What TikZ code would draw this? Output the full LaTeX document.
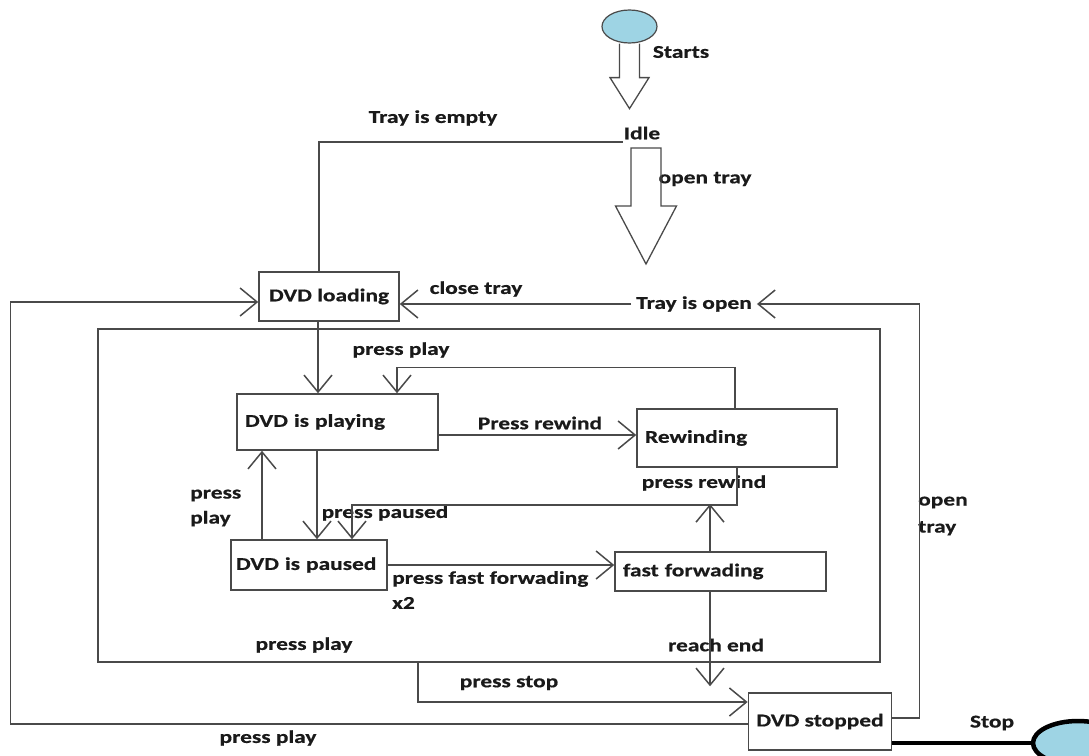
\documentclass[tikz,border=0pt]{standalone}
\usepackage{fontspec}
\newfontfamily\diafont[FakeStretch=1.3,FakeBold=0.6]{Carlito Bold}
\usetikzlibrary{arrows.meta,positioning,calc,shapes.geometric}
\definecolor{Ink}{HTML}{1A1A1A}
\definecolor{Wire}{HTML}{4A4A4A}
\definecolor{Bulb}{HTML}{9ED4E4}
\tikzset{
  wire/.style={draw=Wire,line width=1.5pt},
  tag/.style={font=\diafont\fontsize{18}{25}\selectfont,text=Ink,inner sep=1pt},
  state/.style={draw=Wire,line width=1.5pt,inner ysep=0pt,inner xsep=8pt,font=\diafont\fontsize{18}{19}\selectfont,text=Ink},
  hollow/.style={draw=Wire,line width=1.3pt,line join=miter}
}
\begin{document}
\begin{tikzpicture}[x=1pt,y=-1pt,>={Straight Barb[length=17pt,width=28pt]}]
\useasboundingbox (0,0) rectangle (1089,755);
\node[draw=Wire,line width=1.2pt,fill=Bulb,ellipse,minimum width=55pt,minimum height=33pt,inner sep=0pt] (start) at (629.5,26.5) {};
\node[tag] (startsLbl) at (681,52) {Starts};
\node[tag] (idle) at (642,133) {Idle};
\node[tag] (emptyLbl) at (433,118) {Tray is empty};
\node[tag] (openLbl) at (705,179) {open tray};
\node[state,minimum width=140pt,minimum height=49pt] (load) at (329,296.5) {DVD loading};
\node[tag] (closeLbl) at (476,289) {close tray};
\node[tag,inner xsep=5pt] (trayOpen) at (694,304) {Tray is open};
\node[draw=Wire,line width=1.5pt,minimum width=782pt,minimum height=333pt,inner sep=0pt] (active) at (489,495.5) {};
\node[tag] (playLbl) at (401,350) {press play};
\node[state,text width=185pt,minimum height=56pt,align=left] (play) at (337.5,422) {DVD is playing};
\node[state,text width=184pt,minimum height=58pt,align=left] (rew) at (737,438) {Rewinding};
\node[tag] (rewLbl) at (540,423) {Press rewind};
\node[tag,anchor=west,align=left] (resumeLbl) at (189,508) {press\\play};
\node[state,text width=146pt,inner xsep=5pt,minimum height=50pt,align=left] (paused) at (309,565) {DVD~is~paused};
\node[tag] (pauseLbl) at (385,513) {press paused};
\node[tag] (rew2Lbl) at (704,483) {press rewind};
\node[state,text width=195pt,minimum height=39pt,align=left] (ff) at (720.5,571.5) {fast forwading};
\node[tag,anchor=west,align=left] (ffLbl) at (391,590) {press fast forwading\\x2};
\node[tag] (endLbl) at (716,645) {reach end};
\node[tag] (play3Lbl) at (304,645) {press play};
\node[tag] (stopLbl) at (509,683) {press stop};
\node[state,minimum width=140pt,minimum height=57pt] (stopped) at (820,721.5) {DVD stopped};
\node[tag,anchor=west,align=left,font=\diafont\fontsize{18}{27}\selectfont] (open2Lbl) at (917,516) {open\\tray};
\node[tag] (play4Lbl) at (268,738) {press play};
\node[tag] (endStopLbl) at (992,723) {Stop};
\node[draw=black,line width=4.5pt,fill=Bulb,ellipse,minimum width=90pt,minimum height=44pt] (finish) at (1078,743) {};
\draw[hollow] ([xshift=-10pt]start.south) -- ++(0,34) -- ++(-9.5,0) -- ++(19.5,31) -- ++(19.5,-31) -- ++(-9.5,0) -- ++(0,-34);
\coordinate (idleOut) at (646,148);
\draw[hollow] (idleOut) -- ++(-15,0) -- ++(0,58) -- ++(-15.5,0) -- ++(30.5,58) -- ++(30.5,-58) -- ++(-15.5,0) -- ++(0,-58) -- cycle;
\draw[wire] ([yshift=-9pt]idle.west) -| ([xshift=-10pt]load.north);
\draw[wire,->] (trayOpen.west) -- (trayOpen.west -| load.east);
\draw[wire,->] ([yshift=3.5pt]stopped.east) -- ++(27,0) |- (trayOpen.east);
\draw[wire,->] ([yshift=-2.5pt]stopped.west) -- ++(-737,0) |- ([yshift=-5.5pt]load.west);
\draw[wire,->] ([xshift=-11pt]load.south) -- ([xshift=-11pt]load.south |- play.north);
\draw[wire,->] ([xshift=-2pt]rew.north) -- ++(0,-41) -| ([xshift=59.5pt]play.north);
\draw[wire,->] ([yshift=-13pt]play.east) -- ([yshift=-13pt]play.east -| rew.west);
\draw[wire,->] ([xshift=-47pt]paused.north) -- ([xshift=-47pt]paused.north |- play.south);
\draw[wire,->] ([xshift=-20.5pt]play.south) -- ([xshift=-20.5pt]play.south |- paused.north);
\draw[wire,->] (rew.south) -- ++(0,37) -| ([xshift=43pt]paused.north);
\coordinate (rewJoin) at (710,504);
\draw[wire,->] ([xshift=-10.5pt]ff.north) -- (rewJoin);
\draw[wire,->] (paused.east) -- (paused.east -| ff.west);
\draw[wire,->,shorten >=6pt] ([xshift=-10.5pt]ff.south) -- ([xshift=-10.5pt]ff.south |- stopped.north);
\draw[wire,->] ([xshift=-71pt]active.south) |- ([yshift=19.5pt]stopped.west);
\draw[line width=4.5pt,black] ([yshift=-21.5pt]stopped.east) -- (finish);
\end{tikzpicture}
\end{document}
